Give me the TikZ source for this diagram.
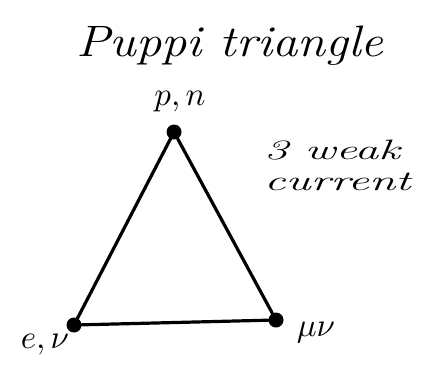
\RequirePackage{fix-cm}
\documentclass[tikz,border=0pt]{standalone}
\begin{document}
\begin{tikzpicture}[x=1pt,y=-1pt,
  vtx/.style={circle,fill=black,inner sep=0pt,minimum size=15pt},
  edge/.style={line width=3.2pt,line cap=round},
  lbl/.style={inner sep=0pt}]
\useasboundingbox (0,0) rectangle (435,368);
\node[inner sep=0pt,font=\fontsize{44}{48}\selectfont\itshape] (title) at (230,46) {\scalebox{1.15}[1]{Puppi triangle}};
\node[vtx] (pn) at (174,132) {};
\node[vtx] (ev) at (74,325) {};
\node[vtx] (mv) at (276,320) {};
\draw[edge] (pn) -- (ev) -- (mv) -- (pn);
\node[lbl] (lpn) at (180,102) {\scalebox{3.3}{$p,n$}};
\node[lbl] (lev) at (45,345) {\scalebox{3.3}{$e,\nu$}};
\node[lbl] (lmv) at (316,333) {\scalebox{3.3}{$\mu\nu$}};
\node[inner sep=0pt,align=left,anchor=north west,font=\fontsize{28}{31}\selectfont\itshape] (weak) at (264,140) {\scalebox{1.7}[1]{3 weak}\\\scalebox{1.7}[1]{current}};
\end{tikzpicture}
\end{document}
